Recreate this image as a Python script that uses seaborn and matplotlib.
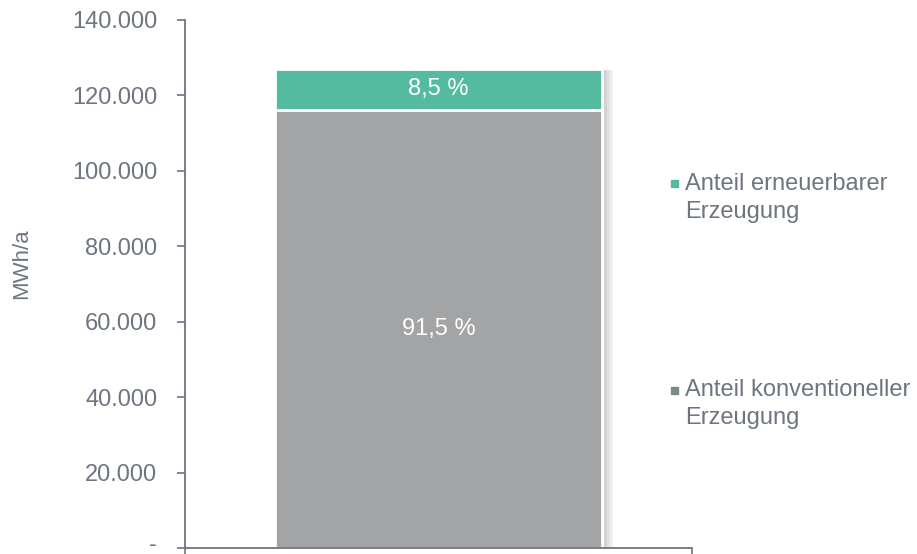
import pandas as pd
import numpy as np
import matplotlib.pyplot as plt
import matplotlib.patheffects as pe
import matplotlib.transforms as mtransforms
from matplotlib.patches import Rectangle
import seaborn as sns

# data (MWh/a)
category = ['Erzeugung']
konventionell = [116200]
erneuerbar = [10800]
labels = ['Anteil erneuerbarer\nErzeugung', 'Anteil konventioneller\nErzeugung']
yticks = [0, 20000, 40000, 60000, 80000, 100000, 120000, 140000]

green = '#55BBA0'
grey = '#A3A4A6'
marker_grey = '#7B8B80'
text_col = '#6E7580'
fs = 17

sns.set_theme(style='white')
plt.rcParams['font.family'] = ['Liberation Sans', 'DejaVu Sans']

df = pd.DataFrame({'cat': category,
                   'konv': konventionell,
                   'total': np.array(konventionell) + np.array(erneuerbar)})

fig = plt.figure(figsize=(9.17, 5.54), dpi=100)
ax = fig.add_axes([185/917, 6/554, 507/917, 528/554])

# soft shadow on the right of the bar
shadow = [pe.SimplePatchShadow(offset=(o, -1), shadow_rgbFace='black', alpha=0.06)
          for o in (2, 4, 6, 8)] + [pe.Normal()]
sns.barplot(data=df, x='cat', y='total', color=green, saturation=1, width=0.643,
            edgecolor='white', linewidth=2, ax=ax)
for p in ax.patches:
    p.set_path_effects(shadow)
sns.barplot(data=df, x='cat', y='konv', color=grey, saturation=1, width=0.643,
            edgecolor='white', linewidth=2, ax=ax)

# value labels
total = df['total'].values
for i in range(len(category)):
    k = konventionell[i]
    e = erneuerbar[i]
    ax.text(i, k / 2, f'{k / total[i] * 100:.1f} %'.replace('.', ','), ha='center', va='center',
            color='white', fontsize=fs)
    ax.text(i, k + e / 2, f'{e / total[i] * 100:.1f} %'.replace('.', ','), ha='center', va='center',
            color='white', fontsize=fs)

ax.set_ylim(0, 140000)
ax.set_xlim(-0.5, 0.5)
ax.set_yticks(yticks)
ax.set_yticklabels(['-' if v == 0 else f'{v:,}'.replace(',', '.') for v in yticks])
ax.set_xticks([-0.5, 0.5])
ax.set_xticklabels(['', ''])
ax.set_xlabel('')
ax.set_ylabel('')
ax.tick_params(axis='y', colors=text_col, labelsize=fs, length=6, width=1.2, direction='out', pad=14, left=True)
ax.tick_params(axis='x', colors=text_col, length=6, width=1.2, direction='out', bottom=True)
for s in ['top', 'right']:
    ax.spines[s].set_visible(False)
for s in ['left', 'bottom']:
    ax.spines[s].set_color(text_col)
    ax.spines[s].set_linewidth(1.3)
ax.patch.set_alpha(0)

# nudge the "-" zero label up so it stays inside the figure
zero_lab = ax.get_yticklabels()[0]
zero_lab.set_transform(zero_lab.get_transform() +
                       mtransforms.ScaledTranslation(0, 4/72, fig.dpi_scale_trans))

fig.text(22/917, 1 - 264/554, 'MWh/a', rotation=90, ha='center', va='center',
         color=text_col, fontsize=16)

# legend: square marker + two-line label, marker aligned with first line
for lab, col, y1 in [(labels[0], green, 184), (labels[1], marker_grey, 390)]:
    fig.add_artist(Rectangle((671/917, 1 - (y1 + 3.5)/554), 7/917, 7/554,
                             transform=fig.transFigure, color=col))
    for j, line in enumerate(lab.split('\n')):
        fig.text(685/917, 1 - (y1 + 28 * j)/554, line, ha='left', va='center',
                 color=text_col, fontsize=fs)

plt.savefig('out.png', dpi=100)
